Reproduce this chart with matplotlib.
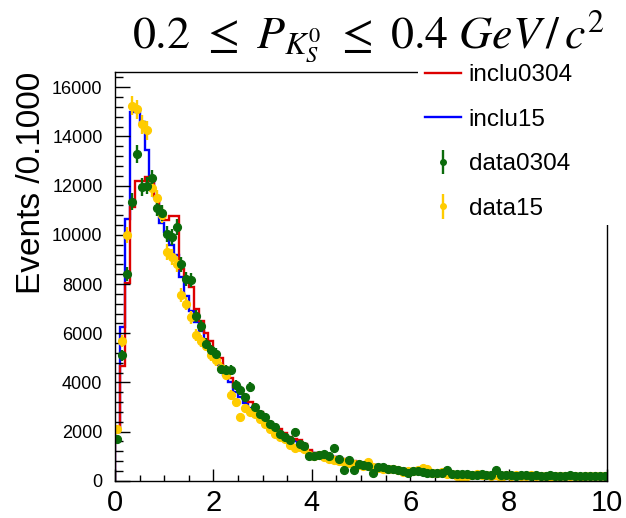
import numpy as np
import matplotlib
matplotlib.use("Agg")
import matplotlib.pyplot as plt
from matplotlib.ticker import MultipleLocator
from matplotlib.patches import Rectangle

plt.rcParams['font.family'] = ['Liberation Sans', 'DejaVu Sans']
plt.rcParams['mathtext.fontset'] = 'stix'

# 100 bins of width 0.1 on [0, 10]
edges = np.linspace(0, 10, 101)
centers = 0.5 * (edges[:-1] + edges[1:])

inclu0304 = [
    2050, 4670, 8030, 11150, 12200, 12200, 12350, 12200, 11600, 10900,
    10600, 10750, 10750, 8600, 8200, 7900, 7000, 6500, 6000, 5700,
    5250, 5000, 4600, 4200, 3800, 3700, 3450, 3200, 3000, 2800,
    2600, 2400, 2250, 2100, 1950, 1800, 1700, 1650, 1500, 1250,
    1150, 1100, 1080, 1050, 980, 930, 880, 830, 790, 750,
    710, 680, 650, 620, 590, 560, 530, 500, 470, 440,
    400, 390, 375, 360, 350, 342, 335, 328, 320, 315,
    308, 300, 296, 290, 285, 280, 276, 270, 268, 262,
    258, 255, 252, 248, 245, 241, 238, 235, 232, 230,
    227, 224, 222, 220, 217, 215, 212, 210, 208, 206,
]
inclu15 = [
    2000, 6250, 10650, 15000, 15000, 14600, 13450, 12350, 11550, 10500,
    10100, 9600, 9200, 8300, 7500, 6900, 6450, 6100, 5700, 5300,
    5000, 4700, 4300, 4000, 3600, 3400, 3150, 2950, 2750, 2550,
    2400, 2250, 2100, 1950, 1800, 1700, 1600, 1500, 1420, 1220,
    1120, 1080, 1040, 1000, 950, 900, 860, 810, 770, 730,
    700, 660, 630, 600, 570, 540, 510, 490, 460, 430,
    395, 385, 370, 355, 345, 338, 330, 322, 316, 310,
    303, 297, 292, 287, 281, 276, 272, 267, 263, 259,
    255, 252, 248, 245, 242, 238, 235, 232, 229, 227,
    224, 221, 219, 216, 214, 212, 210, 207, 205, 203,
]
data0304 = [
    1700, 5100, 8400, 11350, 13300, 11950, 12000, 12300, 11100, 10900,
    10050, 9900, 10300, 8800, 8200, 8150, 6700, 6300, 5550, 5300,
    5150, 4550, 4500, 4500, 3900, 3700, 3400, 3800, 3000, 2700,
    2600, 2300, 2200, 1900, 1800, 1650, 2000, 1500, 1400, 1000,
    1000, 1050, 1100, 1000, 1320, 880, 440, 840, 420, 700,
    650, 600, 320, 580, 560, 500, 480, 420, 380, 330,
    400, 380, 350, 330, 310, 300, 320, 440, 290, 280,
    260, 270, 250, 240, 260, 230, 240, 420, 230, 220,
    250, 210, 230, 220, 200, 240, 210, 200, 230, 190,
    210, 200, 220, 190, 210, 200, 180, 210, 190, 200,
]
data15 = [
    2100, 5700, 10000, 15250, 15100, 14500, 14250, 11900, 11500, 10800,
    9300, 9100, 8800, 7550, 7200, 6650, 5930, 5700, 5500, 5100,
    4900, 4600, 4300, 3500, 3200, 2600, 2950, 2800, 2700, 2500,
    2300, 2100, 1900, 1800, 1700, 1450, 1350, 1370, 1300, 1050,
    1000, 1050, 950, 900, 850, 800, 780, 720, 680, 650,
    620, 760, 560, 540, 500, 480, 460, 430, 350, 400,
    380, 420, 520, 500, 330, 300, 350, 280, 260, 200,
    150, 180, 240, 260, 220, 250, 210, 230, 120, 240,
    200, 230, 210, 190, 220, 180, 200, 210, 150, 190,
    200, 180, 210, 190, 170, 200, 190, 180, 200, 190,
]

fig = plt.figure(figsize=(6.26, 5.18), dpi=100)
ax = fig.add_axes([115 / 626, 1 - 480.8 / 518, 492 / 626, 409 / 518])

# MC histograms
ax.stairs(inclu15, edges, color='#0000ff', lw=1.7, baseline=0)
ax.stairs(inclu0304, edges, color='#dd0000', lw=1.7, baseline=0)

# data points (error bars from counts)
d1 = np.array(data0304, dtype=float)
d2 = np.array(data15, dtype=float)
ax.errorbar(centers, d2, yerr=3.2 * np.sqrt(d2), fmt='o', ms=5.6, color='#ffcc00',
            elinewidth=1.7, capsize=0)
ax.errorbar(centers, d1, yerr=3.2 * np.sqrt(d1), fmt='o', ms=5.6, color='#0b6b0b',
            elinewidth=1.7, capsize=0)

ax.set_xlim(0, 10)
ax.set_ylim(0, 16630)
ax.xaxis.set_major_locator(MultipleLocator(2))
ax.xaxis.set_minor_locator(MultipleLocator(0.5))
ax.yaxis.set_major_locator(MultipleLocator(2000))
ax.yaxis.set_minor_locator(MultipleLocator(400))
ax.tick_params(axis='both', which='both', direction='in', width=1, top=False, right=False)
ax.tick_params(axis='y', which='major', length=11, labelsize=13, pad=9)
ax.tick_params(axis='y', which='minor', length=5.5)
ax.tick_params(axis='x', which='major', length=8.5, labelsize=21, pad=6)
ax.tick_params(axis='x', which='minor', length=4.3)
for s in ax.spines.values():
    s.set_linewidth(1.0)

# white box behind the legend hides the frame corner
fig.add_artist(Rectangle((418 / 626, 1 - 225 / 518), 210 / 626, 170 / 518,
                         transform=fig.transFigure, facecolor='white',
                         edgecolor='none', zorder=1))

h_red = plt.Line2D([], [], color='#dd0000', lw=1.7)
h_blue = plt.Line2D([], [], color='#0000ff', lw=1.7)
h_green = ax.errorbar([], [], yerr=[], fmt='o', ms=4, color='#0b6b0b', elinewidth=1.7)
h_yellow = ax.errorbar([], [], yerr=[], fmt='o', ms=4, color='#ffcc00', elinewidth=1.7)
fig.legend([h_red, h_blue, h_green, h_yellow],
           ['inclu0304', 'inclu15', 'data0304', 'data15'],
           loc='upper left', bbox_to_anchor=(425 / 626, 1 - 64 / 518),
           frameon=False, fontsize=17.5, handlelength=1.5, handletextpad=0.3,
           labelspacing=0.93, borderpad=0, borderaxespad=0)

fig.text(32 / 626, 1 - 72 / 518, 'Events /0.1000', rotation=90, ha='center', va='top',
         fontsize=24)
fig.text(368 / 626, 1 - 48.5 / 518, r'$0.2\ \leq\ P_{K_S^0}\ \leq\ 0.4\ GeV\,/\,c^2$',
         ha='center', va='baseline', fontsize=33)

fig.savefig('out.png', dpi=100)
